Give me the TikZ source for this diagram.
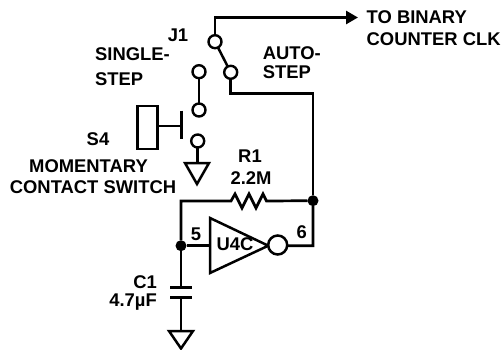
\documentclass[tikz,border=0pt]{standalone}
\usepackage{fontspec}
\setmainfont{Liberation Sans}
\usetikzlibrary{arrows.meta,calc}
\tikzset{
  wire/.style={line width=2.7pt,line join=miter},
  thinwire/.style={line width=2.5pt},
  pin/.style={circle,draw=black,line width=2.4pt,fill=white,minimum size=13pt,inner sep=0pt,outer sep=0pt},
  bubble/.style={circle,draw=black,line width=2.5pt,fill=white,minimum size=19pt,inner sep=0pt,outer sep=0pt},
  junction/.style={circle,fill=black,minimum size=11pt,inner sep=0pt,outer sep=0pt},
  lab/.style={font=\fontsize{18.4}{20}\selectfont\bfseries,inner sep=0pt,text=black},
  labl/.style={lab,anchor=west},
  labr/.style={lab,anchor=east},
  gnd/.style={line width=2.5pt,line join=miter,fill=white},
}
\begin{document}
\begin{tikzpicture}[x=1pt,y=-1pt]
\useasboundingbox (0,0) rectangle (503,350);
% coordinates
\coordinate (corner1) at (215,17.5);
\coordinate (tip) at (358,17.5);
\coordinate (a1) at (230.7,93.3);
\coordinate (a2) at (313,93.3);
\coordinate (g1) at (197.7,163);
\coordinate (g2) at (181,331);
\coordinate (fbl) at (181,201);
\coordinate (rl) at (231,201);
\coordinate (rr) at (268.5,201);
\coordinate (outc) at (313,245.7);
\coordinate (plA) at (181,287.3);
\coordinate (plB) at (181,297.3);
\coordinate (barc) at (181.7,126);
\coordinate (btn) at (157.7,126);
% nodes
\node[junction] (dot6) at (313,200.7) {};
\node[junction] (dot5) at (181,245.7) {};
\node[pin] (pJ) at (215,41.7) {};
\node[pin] (pA) at (230.7,72.3) {};
\node[pin] (pS) at (199,71.7) {};
\node[pin] (pU) at (199,110) {};
\node[pin] (pL) at (197.7,141) {};
% wires
\draw[wire,-{Triangle[length=12pt,width=13pt]}] (pJ.north) -- (corner1) -- (tip);
\draw[thinwire] (pJ) -- (pA);
\draw[wire] (pA.south) -- (a1) -- (a2) -- (dot6);
\draw[thinwire] (pS) -- (pU);
\draw[thinwire] (pL.south) -- (g1);
\draw[gnd] (185,163) -- (209,163) -- (197,184) -- cycle;
% pushbutton
\draw[thinwire] (137.3,106) rectangle (157.7,149);
\draw[thinwire] (btn) -- (barc);
\draw[thinwire] (181.7,110.7) -- (181.7,139);
% feedback
\draw[wire] (dot5) -- (fbl) -- (rl)
  -- ++(4,-7) -- ++(7,14) -- ++(7,-14) -- ++(7,14) -- ++(7,-14) -- ++(3.5,7) -- (rr)
  -- (dot6) -- (outc) -- (287.7,245.7);
% inverter
\draw[wire] (dot5) -- (210,245.7);
\draw[thinwire,line join=miter] (210,218) -- (268.3,245.7) -- (210,273) -- cycle;
\node[bubble] (inv) at (277.7,245) {};
% capacitor
\draw[wire] (dot5) -- (plA);
\draw[thinwire] (170,287.3) -- (192,287.3);
\draw[thinwire] (170,297.3) -- (192,297.3);
\draw[wire] (plB) -- (g2);
\draw[gnd] (169,331) -- (193,331) -- (181,348.5) -- cycle;
% labels
\node[lab] (tJ) at (178,35.7) {J1};
\node[labl] (tS1) at (95,54.3) {SINGLE-};
\node[labl] (tS2) at (95,79) {STEP};
\node[labl] (tA1) at (262.7,53) {AUTO-};
\node[labl] (tA2) at (262.7,72.3) {STEP};
\node[lab] (tS4) at (98,139) {S4};
\node[lab] (tM) at (88.5,165.7) {MOMENTARY};
\node[lab] (tC) at (93,186.7) {CONTACT SWITCH};
\node[lab] (tR) at (250,156) {R1};
\node[lab] (tV) at (251,177.7) {2.2M};
\node[lab] (tU) at (235,244.3) {U4C};
\node[lab] (t5) at (196,234) {5};
\node[lab] (t6) at (301.7,231.7) {6};
\node[labr] (tC1) at (157,281.7) {C1};
\node[labr] (tCv) at (157,302) {4.7µF};
\node[labl] (tT1) at (366.5,17.5) {TO BINARY};
\node[labl] (tT2) at (366.5,39) {COUNTER CLK};
\end{tikzpicture}
\end{document}
